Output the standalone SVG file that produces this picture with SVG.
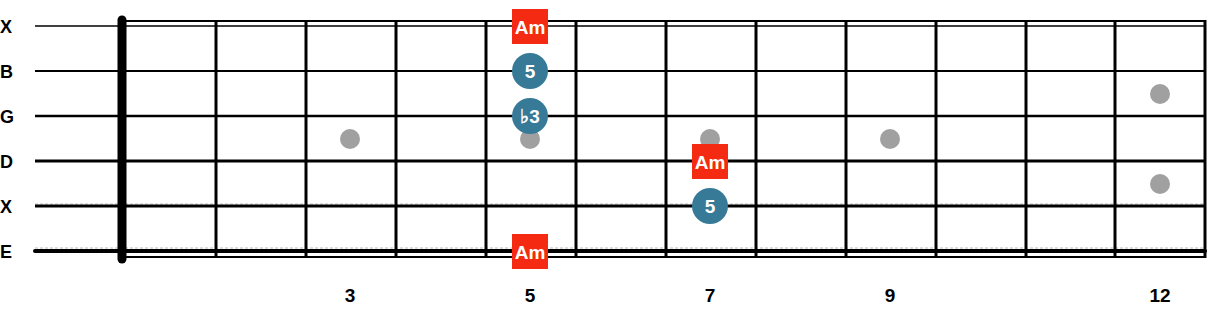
<svg xmlns="http://www.w3.org/2000/svg" width="1207" height="315" viewBox="0 0 1207 315">
<style>
.lbl{font-family:"Liberation Sans",Arial,sans-serif;font-weight:bold;font-size:18px;fill:#000}
.num{font-family:"Liberation Sans",Arial,sans-serif;font-weight:bold;font-size:19px;fill:#000;text-anchor:middle}
.str{stroke:#000;stroke-linecap:butt}
.fret{stroke:#000;stroke-width:3}
.dot{fill:#a0a0a0}
.note{fill:#367a97}
.root{fill:#f42a12}
.nt{font-family:"Liberation Sans",Arial,sans-serif;font-weight:bold;font-size:19px;fill:#fff;text-anchor:middle}
.hint{stroke:#bbb;stroke-width:1;stroke-dasharray:3 2}
</style>
<rect width="1207" height="315" fill="#fff"/>
<g id="board">
<line x1="122" y1="21" x2="1205" y2="21" stroke="#000" stroke-width="2"/>
<line x1="122" y1="257" x2="1205" y2="257" stroke="#000" stroke-width="2"/>
<line x1="1205" y1="20" x2="1205" y2="258" stroke="#000" stroke-width="3"/>
<line class="hint" x1="35" y1="204" x2="1205" y2="204"/>
<line class="hint" x1="35" y1="248" x2="1205" y2="248"/>
<line class="fret" x1="216" y1="21" x2="216" y2="257"/>
<line class="fret" x1="306" y1="21" x2="306" y2="257"/>
<line class="fret" x1="396" y1="21" x2="396" y2="257"/>
<line class="fret" x1="486" y1="21" x2="486" y2="257"/>
<line class="fret" x1="576" y1="21" x2="576" y2="257"/>
<line class="fret" x1="666" y1="21" x2="666" y2="257"/>
<line class="fret" x1="756" y1="21" x2="756" y2="257"/>
<line class="fret" x1="846" y1="21" x2="846" y2="257"/>
<line class="fret" x1="936" y1="21" x2="936" y2="257"/>
<line class="fret" x1="1026" y1="21" x2="1026" y2="257"/>
<line class="fret" x1="1115" y1="21" x2="1115" y2="257"/>
<line class="str" x1="35" y1="26" x2="1205" y2="26" stroke-width="1.5"/>
<line class="str" x1="35" y1="71" x2="1205" y2="71" stroke-width="2"/>
<line class="str" x1="35" y1="116" x2="1205" y2="116" stroke-width="2.5"/>
<line class="str" x1="35" y1="161" x2="1205" y2="161" stroke-width="3"/>
<line class="str" x1="35" y1="206" x2="1205" y2="206" stroke-width="3"/>
<line x1="35" y1="251" x2="1205" y2="251" stroke="#000" stroke-width="4" stroke-linecap="round"/>
<line x1="122" y1="20" x2="122" y2="259" stroke="#000" stroke-width="9" stroke-linecap="round"/>
</g>
<g id="string-labels">
<text class="lbl" x="0" y="33">X</text>
<text class="lbl" x="0" y="78">B</text>
<text class="lbl" x="0" y="123">G</text>
<text class="lbl" x="0" y="168">D</text>
<text class="lbl" x="0" y="213">X</text>
<text class="lbl" x="0" y="258">E</text>
</g>
<g id="fret-numbers">
<text class="num" x="350" y="302">3</text>
<text class="num" x="530" y="302">5</text>
<text class="num" x="710" y="302">7</text>
<text class="num" x="890" y="302">9</text>
<text class="num" x="1160" y="302">12</text>
</g>
<g id="inlays">
<circle class="dot" cx="350" cy="139" r="10"/>
<circle class="dot" cx="530" cy="139" r="10"/>
<circle class="dot" cx="710" cy="139" r="10"/>
<circle class="dot" cx="890" cy="139" r="10"/>
<circle class="dot" cx="1160" cy="94" r="10"/>
<circle class="dot" cx="1160" cy="184" r="10"/>
</g>
<g id="note-am-1"><rect class="root" x="512" y="9" width="36" height="35"/><text class="nt" x="530" y="33.5">Am</text></g>
<g id="note-5-1"><circle class="note" cx="530" cy="71" r="18"/><text class="nt" x="530" y="78">5</text></g>
<g id="note-b3"><circle class="note" cx="530" cy="116" r="18"/><text class="nt" x="530" y="123">♭3</text></g>
<g id="note-am-2"><rect class="root" x="692" y="144" width="36" height="35"/><text class="nt" x="710" y="168.5">Am</text></g>
<g id="note-5-2"><circle class="note" cx="710" cy="206" r="18"/><text class="nt" x="710" y="213">5</text></g>
<g id="note-am-3"><rect class="root" x="512" y="234" width="36" height="35"/><text class="nt" x="530" y="258.5">Am</text></g>
</svg>
